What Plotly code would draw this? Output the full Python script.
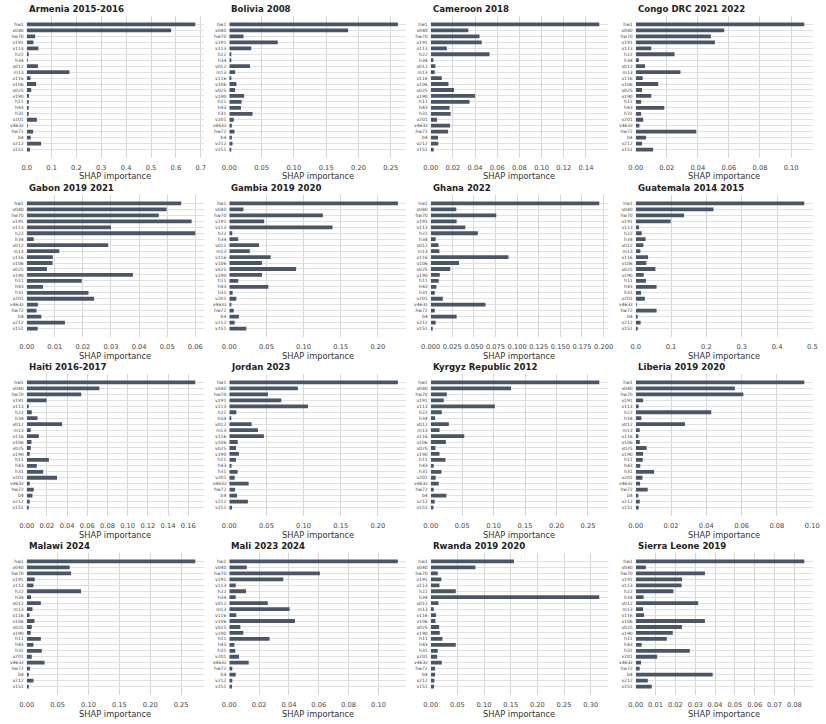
import plotly.graph_objects as go

features = ["hw1", "v040", "hw70", "v191", "v113", "h22", "h34", "v012", "m13", "v116",
            "v106", "v025", "v190", "h11", "h43", "h31", "v201", "v463z", "hw72", "b4",
            "v212", "v151"]

countries = ["Armenia 2015-2016", "Bolivia 2008", "Cameroon 2018", "Congo DRC 2021 2022",
             "Gabon 2019 2021", "Gambia 2019 2020", "Ghana 2022", "Guatemala 2014 2015",
             "Haiti 2016-2017", "Jordan 2023", "Kyrgyz Republic 2012", "Liberia 2019 2020",
             "Malawi 2024", "Mali 2023 2024", "Rwanda 2019 2020", "Sierra Leone 2019"]

armenia = [0.678, 0.581, 0.034, 0.027, 0.047, 0.007, 0.004, 0.045, 0.172, 0.015, 0.038,
           0.018, 0.009, 0.008, 0.005, 0.006, 0.041, 0.004, 0.026, 0.016, 0.058, 0.013]
bolivia = [0.261, 0.184, 0.022, 0.075, 0.034, 0.002, 0.003, 0.032, 0.009, 0.002, 0.011,
           0.009, 0.023, 0.019, 0.018, 0.036, 0.007, 0.004, 0.008, 0.004, 0.005, 0.003]
cameroon = [0.152, 0.034, 0.044, 0.046, 0.0145, 0.053, 0.0024, 0.0042, 0.0036, 0.010, 0.016,
            0.021, 0.040, 0.035, 0.017, 0.018, 0.0057, 0.0175, 0.0157, 0.0066, 0.0069, 0.0027]
congo = [0.1085, 0.057, 0.0484, 0.051, 0.010, 0.025, 0.002, 0.006, 0.0288, 0.0045, 0.0145,
         0.0041, 0.010, 0.0035, 0.0184, 0.0035, 0.0048, 0.0024, 0.039, 0.0067, 0.0041, 0.0112]
gabon = [0.055, 0.0498, 0.047, 0.0587, 0.030, 0.060, 0.0025, 0.029, 0.0116, 0.0093, 0.0092,
         0.0072, 0.0378, 0.0196, 0.0058, 0.022, 0.024, 0.004, 0.0035, 0.0052, 0.0136, 0.0039]
gambia = [0.227, 0.019, 0.126, 0.047, 0.139, 0.004, 0.012, 0.040, 0.0276, 0.0557, 0.044,
          0.090, 0.044, 0.012, 0.0525, 0.0045, 0.0095, 0.0027, 0.006, 0.013, 0.0072, 0.023]
ghana = [0.195, 0.0296, 0.0759, 0.030, 0.040, 0.0545, 0.0058, 0.009, 0.010, 0.090, 0.0327,
         0.0226, 0.0105, 0.0093, 0.0066, 0.0047, 0.014, 0.0634, 0.0047, 0.030, 0.0058, 0.002]
guatemala = [0.477, 0.220, 0.137, 0.099, 0.0094, 0.017, 0.028, 0.0217, 0.0132, 0.035, 0.030,
             0.0557, 0.0226, 0.029, 0.059, 0.015, 0.026, 0.001, 0.059, 0.0038, 0.014, 0.0047]
haiti = [0.167, 0.072, 0.054, 0.0197, 0.002, 0.005, 0.0107, 0.035, 0.004, 0.012, 0.0047,
         0.004, 0.003, 0.022, 0.010, 0.0163, 0.030, 0.003, 0.007, 0.0057, 0.003, 0.001]
jordan = [0.227, 0.0923, 0.052, 0.070, 0.106, 0.0095, 0.0027, 0.030, 0.0385, 0.0466, 0.0113,
          0.009, 0.013, 0.009, 0.003, 0.0113, 0.0072, 0.026, 0.0077, 0.0104, 0.025, 0.0036]
kyrgyz = [0.268, 0.1277, 0.0256, 0.0208, 0.102, 0.0176, 0.007, 0.0288, 0.014, 0.0534, 0.024,
          0.0075, 0.014, 0.0235, 0.0048, 0.017, 0.008, 0.0128, 0.0048, 0.025, 0.0064, 0.0043]
liberia = [0.0955, 0.0562, 0.061, 0.0042, 0.0017, 0.0428, 0.0032, 0.0279, 0.0023, 0.0015, 0.0023,
           0.0062, 0.0042, 0.004, 0.0026, 0.0104, 0.0038, 0.0025, 0.0068, 0.0015, 0.0023, 0.0017]
malawi = [0.273, 0.0697, 0.0719, 0.013, 0.011, 0.088, 0.007, 0.0229, 0.0093, 0.0044, 0.0125,
          0.0082, 0.0065, 0.0229, 0.011, 0.0245, 0.0082, 0.0289, 0.0054, 0.0033, 0.011, 0.0033]
mali = [0.113, 0.0117, 0.0607, 0.0362, 0.0043, 0.0112, 0.0043, 0.0258, 0.0404, 0.0047, 0.044,
        0.0074, 0.0094, 0.027, 0.0034, 0.004, 0.0065, 0.013, 0.002, 0.0043, 0.002, 0.0018]
rwanda = [0.156, 0.0838, 0.0132, 0.020, 0.0164, 0.047, 0.316, 0.0145, 0.0057, 0.010, 0.0088,
          0.0158, 0.017, 0.022, 0.047, 0.0132, 0.012, 0.0208, 0.0082, 0.0082, 0.0069, 0.0063]
sierra_leone = [0.085, 0.0051, 0.0349, 0.0234, 0.0231, 0.019, 0.004, 0.0315, 0.0037, 0.0042, 0.0349,
                0.0233, 0.0187, 0.0157, 0.003, 0.0273, 0.0108, 0.0027, 0.002, 0.0388, 0.0061, 0.0081]

series = [armenia, bolivia, cameroon, congo, gabon, gambia, ghana, guatemala,
          haiti, jordan, kyrgyz, liberia, malawi, mali, rwanda, sierra_leone]

# x tick steps and label formats per panel
tick_steps = [0.1, 0.05, 0.02, 0.02, 0.01, 0.05, 0.025, 0.1,
              0.02, 0.05, 0.05, 0.02, 0.05, 0.02, 0.05, 0.01]
tick_formats = [".1f", ".2f", ".2f", ".2f", ".2f", ".2f", ".3f", ".1f",
                ".2f", ".2f", ".2f", ".2f", ".2f", ".2f", ".2f", ".2f"]

W, H = 826, 724
col_left = [26.7, 229.3, 430.7, 635.7]
col_w = 177.0
row_top = [16.0, 195.0, 374.0, 553.0]
row_h = 142.0

BAR = "#4a5668"
GRID_V = "#d6d6d6"
GRID_H = "#e0e0e0"
FONT = "DejaVu Sans"

fig = go.Figure()
annotations = []
layout_axes = {}

for i, (name, vals) in enumerate(zip(countries, series)):
    r, c = divmod(i, 4)
    n = i + 1
    xa = "x" if n == 1 else f"x{n}"
    ya = "y" if n == 1 else f"y{n}"
    fig.add_trace(go.Bar(x=vals, y=features, orientation="h", xaxis=xa, yaxis=ya,
                         marker=dict(color=BAR, line=dict(width=0)), width=0.64,
                         showlegend=False))
    x0 = col_left[c] / W
    x1 = (col_left[c] + col_w) / W
    ytop = 1 - row_top[r] / H
    ybot = 1 - (row_top[r] + row_h) / H
    layout_axes["xaxis" if n == 1 else f"xaxis{n}"] = dict(
        domain=[x0, x1], anchor=ya, range=[0, max(vals) * 1.05], automargin=False,
        tick0=0, dtick=tick_steps[i], tickformat=tick_formats[i],
        showgrid=True, gridcolor=GRID_V, gridwidth=1.2, zeroline=False,
        showline=False, ticks="", tickfont=dict(size=6.7, color="#444", family=FONT),
        ticklabelstandoff=4)
    layout_axes["yaxis" if n == 1 else f"yaxis{n}"] = dict(
        domain=[ybot, ytop], anchor=xa, type="category", automargin=False,
        categoryorder="array", categoryarray=features, range=[22.42, -1.42],
        showgrid=True, gridcolor=GRID_H, gridwidth=1, zeroline=False, showline=False,
        ticks="", tickfont=dict(size=4.5, color="#444", family=FONT),
        ticklabelstandoff=2)
    annotations.append(dict(text=name, xref="paper", yref="paper", x=x0,
                            y=1 - (row_top[r] - 6.7) / H, xanchor="left", yanchor="middle",
                            showarrow=False,
                            font=dict(size=8.6, color="#222", family=FONT, weight="bold")))
    annotations.append(dict(text="SHAP importance", xref="paper", yref="paper",
                            x=(x0 + x1) / 2, y=1 - (row_top[r] + row_h + 18.5) / H,
                            xanchor="center", yanchor="middle", showarrow=False,
                            font=dict(size=8.3, color="#333", family=FONT)))

fig.update_layout(width=W, height=H, margin=dict(l=0, r=0, t=0, b=0, autoexpand=False),
                  paper_bgcolor="white", plot_bgcolor="white",
                  font=dict(family=FONT), annotations=annotations,
                  **layout_axes)

fig.write_html("out.html")
